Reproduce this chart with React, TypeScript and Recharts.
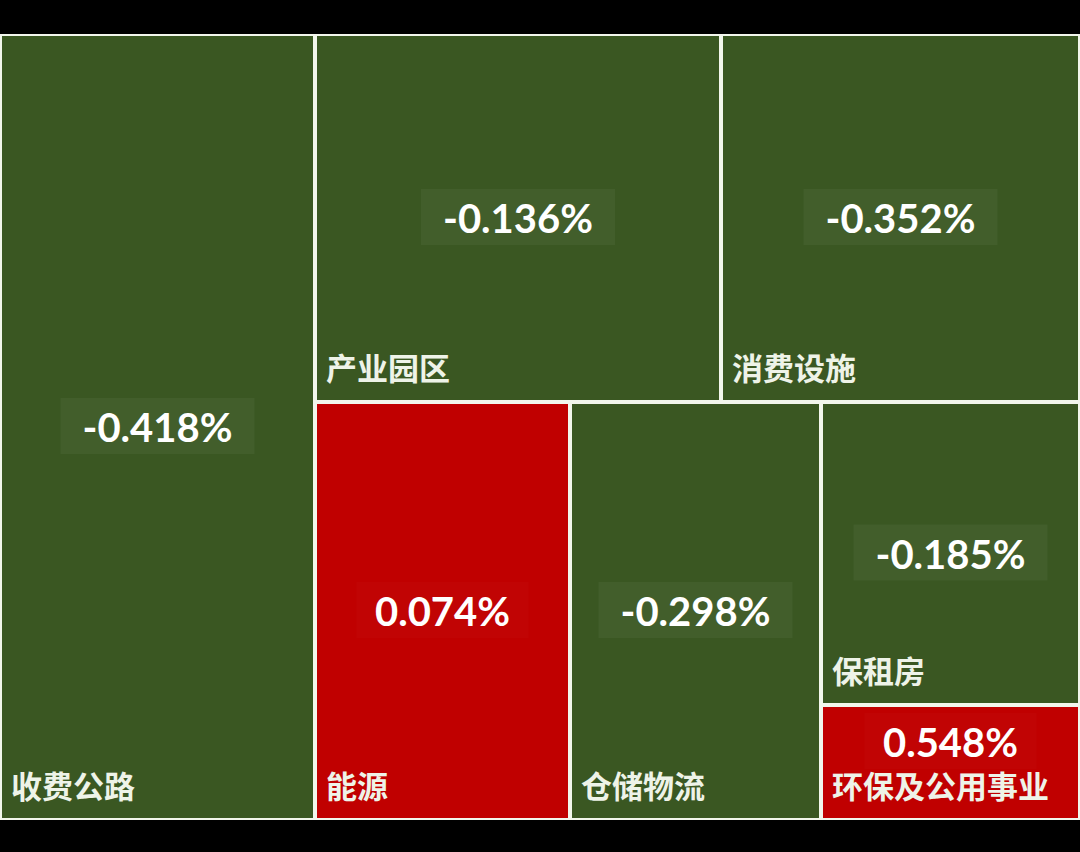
import React from "react";
import { Treemap } from "recharts";

// sectors, their weights (cell area) and the day's change in %
const SECTORS = ["收费公路", "产业园区", "消费设施", "能源", "仓储物流", "保租房", "环保及公用事业"];
const WEIGHTS = [2476, 1494, 1321, 1066, 1049, 785, 298];
const CHANGES = [-0.418, -0.136, -0.352, 0.074, -0.298, -0.185, 0.548];

const GREEN = "#3a5722";
const RED = "#c00000";

const data = SECTORS.map((name, i) => ({ name, size: WEIGHTS[i], change: CHANGES[i] }));

function fmt(v: number) {
  return `${v.toFixed(3)}%`;
}

function SectorCell(props: any) {
  const { x, y, width, height, depth, name, change } = props;
  if (depth !== 1) return <g />;
  const label = fmt(change);
  const up = change >= 0;
  const cx = x + width / 2;
  const cy = Math.min(y + height / 2, y + height - 78);
  const boxW = label.length * 22 + 40;
  return (
    <g>
      <rect
        x={x}
        y={y}
        width={width}
        height={height}
        fill={up ? RED : GREEN}
        stroke="#f2f6ec"
        strokeWidth={4}
      />
      <rect
        x={cx - boxW / 2}
        y={cy - 29}
        width={boxW}
        height={56}
        fill="#ffffff"
        fillOpacity={up ? 0.015 : 0.045}
      />
      <text
        x={cx}
        y={cy}
        textAnchor="middle"
        dominantBaseline="central"
        fill="#ffffff"
        fontFamily="Lato, 'Open Sans', sans-serif"
        fontWeight={700}
        fontSize={40}
      >
        {label}
      </text>
      <text
        x={x + 11}
        y={y + height - 22}
        fill="#eef3e8"
        fontFamily="'Noto Sans CJK SC', sans-serif"
        fontWeight={700}
        fontSize={31}
      >
        {name}
      </text>
    </g>
  );
}

export default function App() {
  return (
    <div style={{ position: "fixed", left: 0, top: 0, width: 1080, height: 852, background: "#000" }}>
      <div style={{ position: "absolute", left: 0, top: 34 }}>
        <Treemap
          width={1080}
          height={786}
          data={data}
          dataKey="size"
          nameKey="name"
          aspectRatio={0.65}
          isAnimationActive={false}
          content={<SectorCell />}
        />
      </div>
    </div>
  );
}
